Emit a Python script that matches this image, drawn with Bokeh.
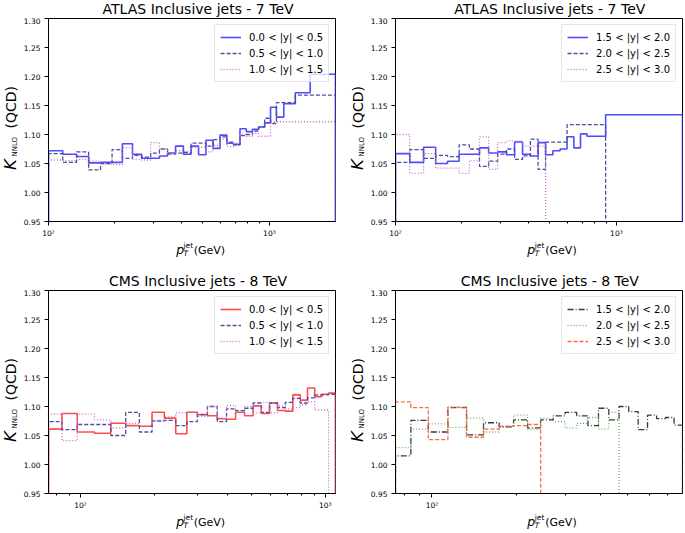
import math
from bokeh.plotting import figure
from bokeh.layouts import column, row
from bokeh.models import Label, Range1d, FixedTicker, PrintfTickFormatter
from bokeh.embed import file_html
from bokeh.resources import INLINE

# ---------------- data ----------------
atlas_edges = [100, 116, 134, 152, 172, 194, 216, 240, 264, 290, 318, 346, 376, 408,
               442, 478, 516, 556, 598, 642, 688, 736, 786, 838, 894, 952, 1012, 1076,
               1162, 1310, 1530, 1992]
cms_edges = [74, 84, 97, 114, 133, 153, 174, 196, 220, 245, 272, 300, 330, 362, 395,
             430, 468, 507, 548, 592, 638, 686, 737, 790, 846, 905, 967, 1032, 1101]

# ATLAS 7 TeV, |y| < 1.5
atlas_k_00_05 = [1.072, 1.066, 1.062, 1.051, 1.052, 1.052, 1.084, 1.066, 1.059, 1.059,
                 1.063, 1.068, 1.080, 1.066, 1.080, 1.065, 1.090, 1.076, 1.099, 1.085,
                 1.083, 1.110, 1.105, 1.109, 1.113, 1.120, 1.147, 1.130, 1.153, 1.172, 1.204]
atlas_k_05_10 = [1.067, 1.052, 1.070, 1.039, 1.050, 1.074, 1.059, 1.064, 1.061, 1.068,
                 1.075, 1.066, 1.068, 1.069, 1.085, 1.085, 1.080, 1.091, 1.096, 1.087,
                 1.082, 1.098, 1.100, 1.106, 1.113, 1.128, 1.119, 1.155, 1.155, 1.168, 1.168]
atlas_k_10_15 = [1.056, 1.055, 1.057, 1.054, 1.049, 1.048, 1.077, 1.057, 1.056, 1.086,
                 1.075, 1.067, 1.072, 1.071, 1.078, 1.078, 1.070, 1.081, 1.092, 1.079,
                 1.085, 1.100, 1.097, 1.102, 1.097, 1.097, 1.122, 1.122, 1.122, 1.122, 1.122]

# ATLAS 7 TeV, 1.5 < |y| < 3.0
atlas_edges_15_20 = atlas_edges[:25] + [1992]
atlas_k_15_20 = [1.067, 1.052, 1.078, 1.050, 1.054, 1.066, 1.066, 1.077, 1.068, 1.070,
                 1.065, 1.087, 1.066, 1.063, 1.086, 1.065, 1.072, 1.075, 1.096, 1.077,
                 1.101, 1.097, 1.097, 1.097, 1.134]
atlas_edges_20_25 = atlas_edges[:25]
atlas_k_20_25 = [1.052, 1.074, 1.059, 1.064, 1.062, 1.082, 1.075, 1.045, 1.054, 1.066,
                 1.075, 1.057, 1.063, 1.092, 1.040, 1.087, 1.087, 1.087, 1.117, 1.117,
                 1.117, 1.117, 1.117, 1.117]
atlas_edges_25_30 = atlas_edges[:16]
atlas_k_25_30 = [1.100, 1.033, 1.067, 1.042, 1.042, 1.033, 1.055, 1.096, 1.040, 1.086,
                 1.089, 1.089, 1.080, 1.080, 1.080]

# CMS 8 TeV, |y| < 1.5
cms_k_00_05 = [1.061, 1.088, 1.056, 1.054, 1.071, 1.067, 1.066, 1.090, 1.080, 1.053,
               1.090, 1.086, 1.084, 1.079, 1.078, 1.090, 1.084, 1.101, 1.088, 1.106,
               1.093, 1.092, 1.120, 1.111, 1.132, 1.117, 1.121, 1.123]
cms_k_05_10 = [1.074, 1.060, 1.069, 1.069, 1.050, 1.090, 1.056, 1.075, 1.076, 1.067,
               1.074, 1.086, 1.100, 1.074, 1.096, 1.093, 1.097, 1.106, 1.090, 1.106,
               1.098, 1.107, 1.114, 1.106, 1.115, 1.120, 1.120, 1.121]
cms_edges_10_15 = cms_edges[:28]
cms_k_10_15 = [1.087, 1.041, 1.087, 1.077, 1.063, 1.071, 1.066, 1.076, 1.082, 1.089,
               1.090, 1.083, 1.100, 1.080, 1.102, 1.090, 1.100, 1.089, 1.107, 1.089,
               1.101, 1.096, 1.098, 1.103, 1.108, 1.094, 1.094]

# CMS 8 TeV, 1.5 < |y| < 3.0
cms_edges_15_20 = cms_edges[:24]
cms_k_15_20 = [1.015, 1.076, 1.056, 1.098, 1.051, 1.072, 1.065, 1.077, 1.063, 1.077,
               1.084, 1.090, 1.084, 1.067, 1.097, 1.077, 1.100, 1.091, 1.060, 1.085,
               1.079, 1.081, 1.068]
cms_edges_20_25 = cms_edges[:17]
cms_k_20_25 = [1.029, 1.061, 1.070, 1.064, 1.080, 1.056, 1.065, 1.085, 1.061, 1.080,
               1.074, 1.063, 1.071, 1.081, 1.061, 1.090]
cms_edges_25_30 = cms_edges[:10]
cms_k_25_30 = [1.108, 1.098, 1.043, 1.099, 1.047, 1.061, 1.066, 1.067, 1.069]

titles = ["ATLAS Inclusive jets - 7 TeV", "ATLAS Inclusive jets - 7 TeV",
          "CMS Inclusive jets - 8 TeV", "CMS Inclusive jets - 8 TeV"]
labels_low = ["0.0 < |y| < 0.5", "0.5 < |y| < 1.0", "1.0 < |y| < 1.5"]
labels_high = ["1.5 < |y| < 2.0", "2.0 < |y| < 2.5", "2.5 < |y| < 3.0"]

y_ticks = [0.95, 1.00, 1.05, 1.10, 1.15, 1.20, 1.25, 1.30]
x_major = [100, 1000]
x_major_labels = ["10²", "10³"]
atlas_minor = [200, 300, 400, 500, 600, 700, 800, 900, 2000]
cms_minor = [80, 90, 200, 300, 400, 500, 600, 700, 800, 900]

# ---------------- styling / geometry ----------------
FONT = "DejaVu Sans"
MID = 0.346          # distance (in em) from alphabetic baseline to text-box middle
YL_W = 20            # width of the y-label strip
BL = 27              # plot left border (tick labels)
FW, FH = 287, 203    # frame size
BT, BB = 1, 19       # plot top / bottom borders
TT_H = 17            # title strip height
C_BLUE = "#4d4dff"
C_NAVY = "#4d4da2"
C_PINK = "#cc66cc"
C_RED = "#ff4d4d"
C_BLACK = "#3a3a3a"
C_GREEN = "#66b366"
C_ORANGE = "#ff6a3d"
DASHED = "4 2"
DOTTED = "1 2"
DASHDOT = "6 2 1 2"


def step_path(edges, vals, base=0.0):
    xs = [edges[0]]
    ys = [base]
    for i, v in enumerate(vals):
        xs += [edges[i], edges[i + 1]]
        ys += [v, v]
    xs.append(edges[len(vals)])
    ys.append(base)
    return xs, ys


def lab(p, x, y, text, size, style="normal", rotated=False, align="left"):
    # (x, y) is the start of the text on its alphabetic baseline
    if rotated:
        x, angle = x - MID * size, math.pi / 2
    else:
        y, angle = y + MID * size, 0.0
    p.add_layout(Label(x=x, y=y, text=text,
                       text_font=FONT, text_font_size=f"{size}px",
                       text_font_style=style, text_align=align,
                       text_baseline="middle", angle=angle, text_color="black"))


def text_fig(w, h):
    f = figure(width=w, height=h, x_range=Range1d(0, w), y_range=Range1d(0, h),
               x_axis_location=None, y_axis_location=None, min_border=0,
               toolbar_location=None, tools="", output_backend="svg")
    f.grid.visible = False
    f.outline_line_color = None
    f.background_fill_color = "white"
    f.border_fill_color = "white"
    return f


def make_plot(xr, minor, series, right_border):
    p = figure(x_axis_type="log", x_range=Range1d(*xr), y_range=Range1d(0.95, 1.30),
               frame_width=FW, frame_height=FH, min_border_left=BL,
               min_border_right=right_border, min_border_top=BT,
               min_border_bottom=BB, output_backend="svg",
               toolbar_location=None, tools="")
    p.grid.visible = False
    p.outline_line_color = "black"
    p.outline_line_width = 1
    p.background_fill_color = "white"
    p.border_fill_color = "white"

    for edges, vals, color, dash, lw, name in series:
        xs, ys = step_path(edges, vals)
        p.line(xs, ys, line_color=color, line_dash=dash, line_width=lw, legend_label=name)

    for ax in (p.xaxis[0], p.yaxis[0]):
        ax.axis_line_color = "black"
        ax.major_tick_line_color = "black"
        ax.major_tick_out = 4
        ax.major_tick_in = 0
        ax.minor_tick_out = 2
        ax.minor_tick_in = 0
        ax.major_label_text_font = FONT
        ax.major_label_text_font_size = "7.5px"
        ax.major_label_text_color = "black"
    p.xaxis[0].major_label_standoff = 3
    p.yaxis[0].major_label_standoff = 4
    p.xaxis[0].ticker = FixedTicker(ticks=x_major, minor_ticks=minor)
    p.xaxis[0].major_label_overrides = dict(zip(x_major, x_major_labels))
    p.xaxis[0].minor_tick_line_color = "black"
    p.yaxis[0].ticker = FixedTicker(ticks=y_ticks)
    p.yaxis[0].formatter = PrintfTickFormatter(format="%.2f")
    p.yaxis[0].minor_tick_line_color = None

    leg = p.legend[0]
    leg.location = "top_right"
    leg.margin = 6
    leg.padding = 5
    leg.spacing = 2
    leg.label_height = 14
    leg.glyph_height = 14
    leg.glyph_width = 21
    leg.label_standoff = 8
    leg.label_text_font = FONT
    leg.label_text_font_size = "10px"
    leg.label_text_color = "black"
    leg.border_line_color = "#cccccc"
    leg.border_line_width = 1
    leg.background_fill_alpha = 0.8
    return p


def make_cell(title, xr, minor, series, right_border, xlab_h):
    p = make_plot(xr, minor, series, right_border)
    pw = BL + FW + right_border
    cx = BL + FW / 2

    # title strip (baseline 13.5 px below its top)
    tt = text_fig(pw, TT_H)
    lab(tt, cx, TT_H - 13.5, title, 14, align="center")

    # x-axis label strip: p_T^jet (GeV)  (baseline 13.5 px below its top)
    xl = text_fig(pw, xlab_h)
    base = xlab_h - 13.5
    x0 = cx - 25
    lab(xl, x0, base, "p", 12.5, style="italic")
    lab(xl, x0 + 8.3, base - 2.5, "T", 7.5, style="italic")
    lab(xl, x0 + 8.3, base + 6, "jet", 7.5)
    lab(xl, x0 + 20, base, "(GeV)", 11)

    # y-axis label strip: K_NNLO (QCD)
    total_h = TT_H + BT + FH + BB + xlab_h
    yl = text_fig(YL_W, total_h)
    center = xlab_h + BB + FH / 2
    y0 = center - 50
    lab(yl, 15.8, y0, "K", 16.5, style="italic", rotated=True)
    lab(yl, 17.3, y0 + 13.5, "NNLO", 7, rotated=True)
    lab(yl, 15.8, y0 + 41.5, "(QCD)", 14, rotated=True)

    return row(yl, column(tt, p, xl))


c1 = make_cell(titles[0], (100, 1992), atlas_minor, [
    (atlas_edges, atlas_k_00_05, C_BLUE, "solid", 1.6, labels_low[0]),
    (atlas_edges, atlas_k_05_10, C_NAVY, DASHED, 1.3, labels_low[1]),
    (atlas_edges, atlas_k_10_15, C_PINK, DOTTED, 1.3, labels_low[2]),
], 12, 32)
c2 = make_cell(titles[1], (100, 1992), atlas_minor, [
    (atlas_edges_15_20, atlas_k_15_20, C_BLUE, "solid", 1.6, labels_high[0]),
    (atlas_edges_20_25, atlas_k_20_25, C_NAVY, DASHED, 1.3, labels_high[1]),
    (atlas_edges_25_30, atlas_k_25_30, C_PINK, DOTTED, 1.3, labels_high[2]),
], 2, 32)
c3 = make_cell(titles[2], (74, 1101), cms_minor, [
    (cms_edges, cms_k_00_05, C_RED, "solid", 1.6, labels_low[0]),
    (cms_edges, cms_k_05_10, C_NAVY, DASHED, 1.3, labels_low[1]),
    (cms_edges_10_15, cms_k_10_15, C_PINK, DOTTED, 1.3, labels_low[2]),
], 12, 18)
c4 = make_cell(titles[3], (74, 790), cms_minor, [
    (cms_edges_15_20, cms_k_15_20, C_BLACK, DASHDOT, 1.3, labels_high[0]),
    (cms_edges_20_25, cms_k_20_25, C_GREEN, DOTTED, 1.3, labels_high[1]),
    (cms_edges_25_30, cms_k_25_30, C_ORANGE, DASHED, 1.3, labels_high[2]),
], 2, 18)

layout = column(row(c1, c2), row(c3, c4))
open("out.html", "w").write(file_html(layout, INLINE))
